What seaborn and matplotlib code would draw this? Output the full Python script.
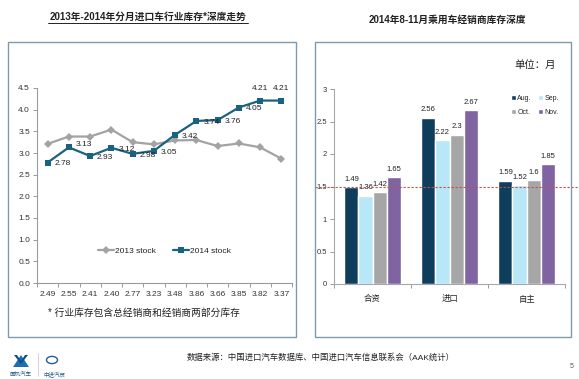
import numpy as np
import pandas as pd
import matplotlib
matplotlib.use("Agg")
import matplotlib.pyplot as plt
from matplotlib.patches import Rectangle, Polygon, Circle
from matplotlib.lines import Line2D
import seaborn as sns

# ---------------- data ----------------
x_labels = ["2.49", "2.55", "2.41", "2.40", "2.77", "3.23", "3.48", "3.86", "3.66", "3.85", "3.82", "3.37"]
stock_2013 = [3.21, 3.38, 3.38, 3.54, 3.25, 3.20, 3.29, 3.30, 3.16, 3.22, 3.13, 2.87]
stock_2014 = [2.78, 3.13, 2.93, 3.12, 2.98, 3.05, 3.42, 3.74, 3.76, 4.05, 4.21, 4.21]
series_names = ["2013 stock", "2014 stock"]

categories = ["合资", "进口", "自主"]
months = ["Aug.", "Sep.", "Oct.", "Nov."]
aug = [1.49, 2.56, 1.59]
sep = [1.36, 2.22, 1.52]
oct_ = [1.42, 2.30, 1.60]
nov = [1.65, 2.67, 1.85]
ref_level = 1.5

left_title = "2013年-2014年分月进口车行业库存*深度走势"
right_title = "2014年8-11月乘用车经销商库存深度"
footnote = "* 行业库存包含总经销商和经销商两部分库存"
source = "数据来源：中国进口汽车数据库、中国进口汽车信息联系会（AAK统计）"
unit = "单位：月"

# ---------------- style ----------------
sns.set_theme(style="white")
plt.rcParams["font.family"] = ["Liberation Sans", "Noto Sans CJK SC", "DejaVu Sans"]
plt.rcParams["axes.unicode_minus"] = False

W, H = 579, 379
fig = plt.figure(figsize=(W / 100, H / 100), dpi=100)
fig.patch.set_facecolor("white")


def fx(x):
    return x / W


def fy(y):
    return 1 - y / H


# panel boxes
box_col = "#7f9aab"
fig.add_artist(Rectangle((fx(8), fy(337)), fx(296) - fx(8), fy(42) - fy(337),
                         fill=False, ec=box_col, lw=1.0, transform=fig.transFigure))
fig.add_artist(Rectangle((fx(315), fy(337)), fx(571) - fx(315), fy(42) - fy(337),
                         fill=False, ec=box_col, lw=1.0, transform=fig.transFigure))

# ---------------- left chart ----------------
axL = fig.add_axes([fx(37), fy(283), fx(292) - fx(37), fy(88) - fy(283)])
idx = np.arange(len(x_labels))
df_line = pd.DataFrame({
    "pos": np.concatenate([idx, idx]),
    "value": stock_2013 + stock_2014,
    "series": [series_names[0]] * len(idx) + [series_names[1]] * len(idx),
})
c13, c14 = "#a3a3a3", "#1b6281"
sns.lineplot(data=df_line, x="pos", y="value", hue="series", style="series",
             palette={series_names[0]: c13, series_names[1]: c14},
             markers={series_names[0]: "D", series_names[1]: "s"},
             dashes=False, lw=1.6, markersize=4.5, markeredgewidth=0,
             ax=axL, legend=True)
for ln in axL.lines:
    if matplotlib.colors.to_hex(ln.get_color()) == c13:
        ln.set_markersize(3.6)

axL.set_xlim(-0.5, len(x_labels) - 0.5)
axL.set_ylim(0, 4.5)
axL.set_yticks(np.arange(0, 4.51, 0.5))
axL.set_yticklabels([f"{v:.1f}" for v in np.arange(0, 4.51, 0.5)], fontsize=6, color="#333333")
axL.set_xticks(idx)
axL.set_xticklabels(x_labels, fontsize=6, color="#333333")
axL.set_xticks(np.arange(-0.5, len(x_labels), 1), minor=True)
axL.tick_params(axis="x", which="major", length=0, pad=6)
axL.tick_params(axis="x", which="minor", length=3, color="#9a9a9a", width=0.7, bottom=True)
axL.tick_params(axis="y", length=3, color="#9a9a9a", width=0.7, left=True, pad=2)
axL.set_xlabel("")
axL.set_ylabel("")
for s in ["top", "right"]:
    axL.spines[s].set_visible(False)
for s in ["left", "bottom"]:
    axL.spines[s].set_color("#9a9a9a")
    axL.spines[s].set_linewidth(0.8)
axL.set_facecolor("none")

for i, v in enumerate(stock_2014):
    if i >= len(stock_2014) - 2:
        axL.annotate(f"{v:.2f}", (i, v), xytext=(0, 6), textcoords="offset points",
                     ha="center", va="bottom", fontsize=6, color="#222222")
    else:
        dy = 2 if i == 1 else -1
        axL.annotate(f"{v:.2f}", (i, v), xytext=(5, dy), textcoords="offset points",
                     ha="left", va="center", fontsize=6, color="#222222")

legL = axL.legend(loc="center", bbox_to_anchor=(0.5, 0.165), ncol=2, frameon=False,
                  fontsize=6, handlelength=2.0, handletextpad=0.1, columnspacing=2.0)
for t in legL.get_texts():
    t.set_color("#222222")

# ---------------- right chart ----------------
axR = fig.add_axes([fx(334), fy(284), fx(565) - fx(334), fy(89) - fy(284)])
df_bar = pd.DataFrame({
    "cat": categories * 4,
    "value": aug + sep + oct_ + nov,
    "month": [m for m in months for _ in categories],
})
bar_cols = {"Aug.": "#0f3e5c", "Sep.": "#b8e8f8", "Oct.": "#a6a6a6", "Nov.": "#8064a2"}
sns.barplot(data=df_bar, x="cat", y="value", hue="month", order=categories,
            hue_order=months, palette=bar_cols, saturation=1, width=0.73, gap=0,
            errorbar=None, ax=axR)
for cont in axR.containers:
    axR.bar_label(cont, fmt="{:g}", fontsize=5.5, padding=3, color="#222222")

axR.set_ylim(0, 3)
axR.set_xlim(-0.5, 2.5)
rt = [0, 0.5, 1, 1.5, 2, 2.5, 3]
axR.set_yticks(rt)
axR.set_yticklabels([f"{v:g}" for v in rt], fontsize=5.5, color="#333333")
axR.set_xticks(range(len(categories)))
axR.set_xticklabels(categories, fontsize=6, color="#222222")
axR.set_xticks(np.arange(-0.5, len(categories), 1), minor=True)
axR.tick_params(axis="x", which="major", length=0, pad=8)
axR.tick_params(axis="x", which="minor", length=3, color="#9a9a9a", width=0.7, bottom=True)
axR.tick_params(axis="y", length=3, color="#9a9a9a", width=0.7, left=True, pad=2)
axR.set_xlabel("")
axR.set_ylabel("")
for s in ["top", "right"]:
    axR.spines[s].set_visible(False)
for s in ["left", "bottom"]:
    axR.spines[s].set_color("#a8a8a8")
    axR.spines[s].set_linewidth(0.8)
axR.set_facecolor("none")

axR.axhline(ref_level, xmin=-0.082, xmax=1.07, clip_on=False, color="#c0504d",
            ls=(0, (2.0, 1.6)), lw=0.8, zorder=5)

h, l = axR.get_legend_handles_labels()
order = [0, 2, 1, 3]
legR = axR.legend([h[i] for i in order], [l[i] for i in order], loc="upper right",
                  bbox_to_anchor=(1.0, 1.0), ncol=2, frameon=False, fontsize=5,
                  handlelength=0.7, handleheight=0.7, handletextpad=0.2,
                  columnspacing=0.9, labelspacing=0.9)

fig.text(fx(556), fy(65), unit, ha="right", va="center", fontsize=7.5, color="#222222")

# ---------------- titles & notes ----------------
fig.text(fx(148), fy(17), left_title, ha="center", va="center", fontsize=7,
         fontweight="bold", color="#222222")
fig.add_artist(Line2D([fx(48), fx(248)], [fy(23), fy(23)], color="#222222", lw=0.7,
                      transform=fig.transFigure))
fig.text(fx(447), fy(20), right_title, ha="center", va="center", fontsize=7,
         fontweight="bold", color="#222222")
fig.text(fx(48), fy(313), footnote, ha="left", va="center", fontsize=7, color="#222222")
fig.text(fx(187), fy(358), source, ha="left", va="center", fontsize=6, color="#222222")
fig.text(fx(572), fy(366), "5", ha="center", va="center", fontsize=5, color="#555555")

# logos
fig.add_artist(Polygon([[fx(13), fy(367)], [fx(21), fy(355)], [fx(29), fy(367)]],
                       closed=True, fc="#1f6fb0", ec="none", transform=fig.transFigure))
fig.add_artist(Polygon([[fx(14), fy(355)], [fx(17), fy(355)], [fx(21), fy(361)],
                        [fx(25), fy(355)], [fx(28), fy(355)], [fx(21), fy(364)]],
                       closed=True, fc="#0c4f8a", ec="none", transform=fig.transFigure))
fig.add_artist(Line2D([fx(38), fx(38)], [fy(353), fy(376)], color="#cccccc", lw=0.6,
                      transform=fig.transFigure))
fig.add_artist(Circle((fx(52), fy(360)), 5.5 / W, fill=False, ec="#2a5d8f", lw=1.0,
                      transform=fig.transFigure))
fig.text(fx(21), fy(374), "国机汽车", ha="center", va="center", fontsize=4, color="#2a5d8f")
fig.text(fx(54), fy(374), "中进汽贸", ha="center", va="center", fontsize=4, color="#2a5d8f")

fig.savefig("out.png", dpi=100, facecolor="white")
